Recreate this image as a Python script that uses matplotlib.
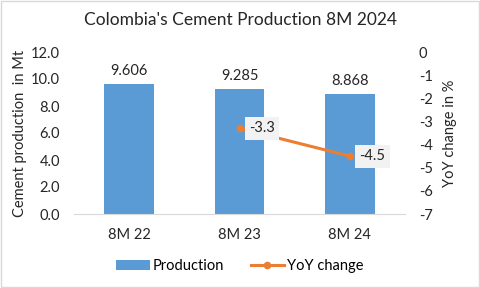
import matplotlib
matplotlib.use('Agg')
import matplotlib.pyplot as plt
from matplotlib.patches import Rectangle

plt.rcParams['font.family'] = ['Lato', 'DejaVu Sans']
plt.rcParams['axes.unicode_minus'] = False

# Chart data
periods = ['8M 22', '8M 23', '8M 24']
production = [9.606, 9.285, 8.868]
yoy_periods = ['8M 23', '8M 24']
yoy_change = [-3.3, -4.5]

bar_color = '#5b9bd5'
line_color = '#ed7d31'
text_color = '#262626'

fig = plt.figure(figsize=(4.8, 2.88), dpi=100)
ax = fig.add_axes([74 / 480, 1 - 214 / 288, 331 / 480, 162 / 288])
ax2 = ax.twinx()

# Bars for production
bars = ax.bar(periods, production, width=0.45, color=bar_color, label='Production', zorder=2)
for b, v in zip(bars, production):
    ax.text(b.get_x() + b.get_width() / 2, v + 0.45, f'{v:.3f}', ha='center', va='bottom',
            fontsize=10.5, color=text_color)

ax.set_xlim(-0.5, 2.5)
ax.set_ylim(0, 12)
ax.set_yticks([0, 2, 4, 6, 8, 10, 12])
ax.set_yticklabels([f'{t:.1f}' for t in ax.get_yticks()])
ax.set_ylabel('Cement production  in Mt', fontsize=10.5, color=text_color, labelpad=3)

# Line for YoY change
x_idx = [periods.index(p) for p in yoy_periods]
ax2.plot(x_idx, yoy_change, color=line_color, lw=2.2, marker='o', ms=4.5, label='YoY change', zorder=3)
for xi, v in zip(x_idx, yoy_change):
    ax2.annotate(f'{v}', (xi, v), xytext=(7, 0), textcoords='offset points', ha='left', va='center',
                 fontsize=10.5, color=text_color,
                 bbox=dict(boxstyle='square,pad=0.3', fc='#f2f2f2', ec='none'))
ax2.set_ylim(-7, 0)
ax2.set_yticks(range(-7, 1))
ax2.set_ylabel('YoY change in %', fontsize=10.5, color=text_color, labelpad=7)

# Axis styling
for a in (ax, ax2):
    for s in a.spines.values():
        s.set_visible(False)
    a.tick_params(length=0, labelsize=10.5, colors=text_color)
ax.spines['bottom'].set_visible(True)
ax.spines['bottom'].set_color('#d9d9d9')
ax.tick_params(axis='x', pad=10)
ax.tick_params(axis='y', pad=10)
ax2.tick_params(axis='y', pad=10)
ax.set_zorder(ax2.get_zorder() - 1)
ax2.patch.set_visible(False)

fig.suptitle("Colombia's Cement Production 8M 2024", y=1 - 12 / 288, va='top', fontsize=12.5, color=text_color)

h1, l1 = ax.get_legend_handles_labels()
h2, l2 = ax2.get_legend_handles_labels()
fig.legend(h1 + h2, l1 + l2, loc='center', bbox_to_anchor=(240 / 480, 1 - 266 / 288), ncol=2,
           frameon=False, fontsize=10.5, handlelength=2.3, handletextpad=0.2, columnspacing=1.8)

# Chart border
fig.patches.append(Rectangle((0.002, 0.003), 0.996, 0.994, transform=fig.transFigure,
                             fill=False, ec='#d9d9d9', lw=1))

fig.savefig('out.png', dpi=100)
